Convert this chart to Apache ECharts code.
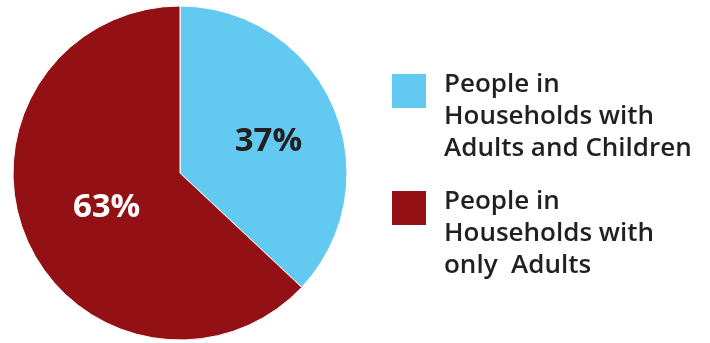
<!DOCTYPE html>
<html>
<head>
<meta charset="utf-8">
<script src="https://cdn.jsdelivr.net/npm/echarts@6/dist/echarts.min.js"></script>
<style>
  html, body { margin: 0; padding: 0; background: #fff; }
  #chart { width: 710px; height: 343px; }
</style>
</head>
<body>
<div id="chart"></div>
<script>
// Household composition shares (percent of people)
const categories = [
  'People in\nHouseholds with\nAdults and Children',
  'People in\nHouseholds with\nonly  Adults'
];
const shares = [37, 63];
const sliceColors = ['#62C9F0', '#931014'];
const labelColors = ['#231F20', '#FFFFFF'];

const FONT = '"Open Sans", Lato, sans-serif';

const chart = echarts.init(document.getElementById('chart'), null, { renderer: 'canvas' });

// Legend names are drawn as rich text: a spacer line on top pushes the
// three-line caption down so that it starts level with the colour swatch.
function legendText(name) {
  return '{pad| }\n' + name.split('\n').map(l => '{t|' + l + '}').join('\n');
}

// One legend block per category, stacked on the right of the pie.
function legendBlock(name, top) {
  return {
    orient: 'vertical',
    left: 390,
    top: top,
    padding: 0,
    itemWidth: 36,
    itemHeight: 36,
    icon: 'rect',
    selectedMode: false,
    formatter: legendText,
    textStyle: {
      fontFamily: FONT,
      color: '#231F20',
      rich: {
        pad: { lineHeight: 52, fontSize: 10 },
        t: {
          fontFamily: FONT,
          fontWeight: 600,
          fontSize: 26,
          lineHeight: 32,
          color: '#231F20',
          padding: [0, 0, 0, 12]
        }
      }
    },
    data: [name]
  };
}

chart.setOption({
  animation: false,
  backgroundColor: '#ffffff',
  legend: [
    legendBlock(categories[0], 38),
    legendBlock(categories[1], 155)
  ],
  series: [{
    type: 'pie',
    center: [180, 173],
    radius: [0, 167],
    startAngle: 90,
    clockwise: true,
    avoidLabelOverlap: false,
    itemStyle: { borderColor: '#ffffff', borderWidth: 1 },
    label: {
      show: true,
      position: 'inside',
      formatter: '{c}%',
      fontFamily: FONT,
      fontWeight: 'bold',
      fontSize: 33
    },
    labelLine: { show: false },
    emphasis: { disabled: true },
    data: categories.map((name, i) => ({
      name: name,
      value: shares[i],
      itemStyle: { color: sliceColors[i] },
      label: { color: labelColors[i], offset: i === 0 ? [9, 3] : [6, 0] }
    }))
  }]
});
</script>
</body>
</html>
